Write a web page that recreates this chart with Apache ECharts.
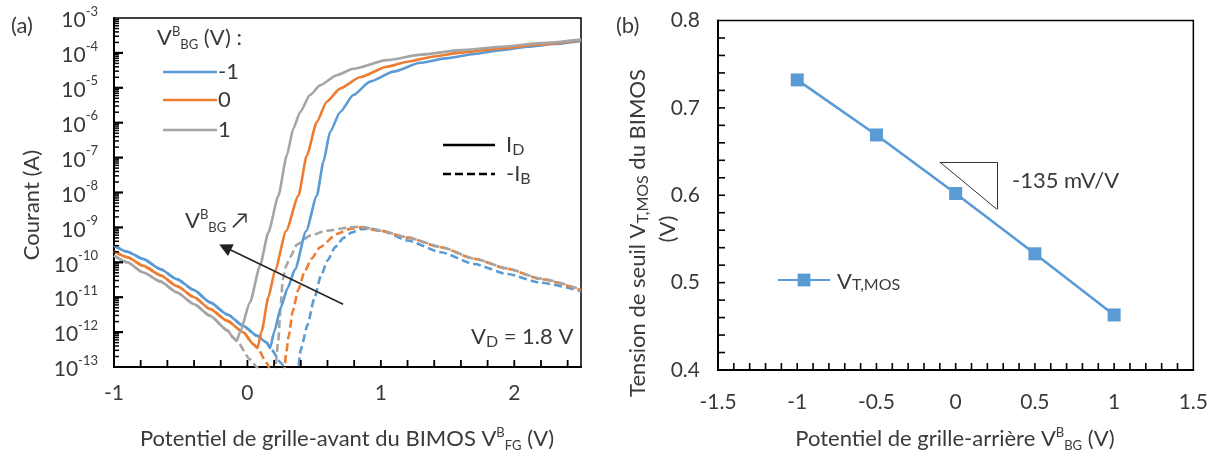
<!DOCTYPE html>
<html><head><meta charset="utf-8">
<script src="https://cdn.jsdelivr.net/npm/echarts/dist/echarts.min.js"></script>
<style>html,body{margin:0;padding:0;background:#fff}#c{width:1211px;height:450px}</style>
</head><body><div id="c"></div>
<script>
// ---------- Panel (a): [V_FG (V), current (A)] ----------
// V_BG = -1 V (blue)
const leakM1 = [[-1,3.0e-10],[-0.9,2.0e-10],[-0.78,1.23e-10],[-0.65,6.3e-11],[-0.53,3.3e-11],[-0.4,1.6e-11],[-0.28,7.1e-12],[-0.15,3.2e-12],[-0.03,1.5e-12],[0.07,7.9e-13],[0.145,5.0e-13],[0.17,3.5e-13]];
const idOnM1 = [[0.2,1.0e-12],[0.25,5.0e-12],[0.3,1.8e-11],[0.357,6.3e-11],[0.44,7.9e-10],[0.52,8.1e-9],[0.569,7.4e-8],[0.619,5.4e-7],[0.694,2.0e-6],[0.794,6.2e-6],[0.919,1.5e-5],[1.094,2.9e-5],[1.294,5.2e-5],[1.5,7.1e-5],[1.7,9.3e-5],[1.9,1.2e-4],[2.1,1.5e-4],[2.3,1.8e-4],[2.5,2.2e-4]];
const ibOnM1 = [[0.257,1.26e-13],[0.3,4e-14],[0.37,4e-14],[0.40,3.2e-13],[0.45,1.6e-12],[0.5,8.9e-12],[0.55,4.0e-11],[0.6,1.12e-10],[0.66,2.8e-10],[0.72,5.0e-10],[0.78,7.1e-10],[0.85,8.9e-10],[0.92,9.1e-10],[1.0,8.3e-10],[1.2,4.2e-10],[1.45,1.95e-10],[1.7,8.9e-11],[1.95,4.6e-11],[2.2,2.6e-11],[2.5,1.5e-11]];
// V_BG = 0 V (orange)
const leak0 = [[-1,2.1e-10],[-0.9,1.4e-10],[-0.78,7.9e-11],[-0.65,4.2e-11],[-0.53,2.1e-11],[-0.4,1.0e-11],[-0.28,4.6e-12],[-0.15,2.1e-12],[-0.03,9.8e-13],[0.044,4.5e-13],[0.075,3.5e-13]];
const idOn0 = [[0.107,1.07e-12],[0.157,1.0e-11],[0.207,5.8e-11],[0.29,7.9e-10],[0.382,8.1e-9],[0.445,1.15e-7],[0.52,1.05e-6],[0.594,4.0e-6],[0.694,9.5e-6],[0.844,2.0e-5],[1.044,4.0e-5],[1.2,5.6e-5],[1.4,7.9e-5],[1.6,1.02e-4],[1.9,1.35e-4],[2.2,1.74e-4],[2.5,2.3e-4]];
const ibOn0 = [[0.145,1.3e-13],[0.2,4e-14],[0.27,4e-14],[0.29,2.5e-13],[0.31,7.9e-13],[0.34,4.0e-12],[0.38,1.6e-11],[0.43,5.6e-11],[0.48,1.26e-10],[0.544,2.7e-10],[0.669,6.5e-10],[0.77,9.1e-10],[0.85,1.0e-9],[1.0,7.9e-10],[1.2,5.1e-10],[1.45,2.7e-10],[1.7,1.26e-10],[1.95,6.5e-11],[2.2,3.3e-11],[2.5,1.6e-11]];
// V_BG = +1 V (grey)
const leakP1 = [[-1,1.55e-10],[-0.9,1.0e-10],[-0.78,5.1e-11],[-0.65,2.8e-11],[-0.53,1.38e-11],[-0.4,6.3e-12],[-0.28,2.95e-12],[-0.15,1.12e-12],[-0.106,6.9e-13],[-0.08,5.6e-13]];
const idOnP1 = [[-0.056,9.8e-13],[0.019,7.1e-12],[0.094,7.9e-11],[0.157,7.2e-10],[0.232,8.1e-9],[0.295,1.15e-7],[0.344,6.8e-7],[0.394,2.0e-6],[0.469,6.2e-6],[0.544,1.17e-5],[0.669,2.3e-5],[0.794,3.5e-5],[1.044,6.2e-5],[1.3,8.9e-5],[1.6,1.2e-4],[1.9,1.5e-4],[2.2,1.9e-4],[2.5,2.4e-4]];
const ibOnP1 = [[0.019,1.66e-13],[0.07,1.0e-13],[0.12,4e-14],[0.2,4e-14],[0.23,5.0e-13],[0.25,6.3e-12],[0.265,3.2e-11],[0.29,7.9e-11],[0.32,1.4e-10],[0.37,3.2e-10],[0.47,5.8e-10],[0.594,8.1e-10],[0.77,1.0e-9],[0.85,1.05e-9],[1.0,8.0e-10],[1.2,5.2e-10],[1.45,2.75e-10],[1.7,1.28e-10],[1.95,6.6e-11],[2.2,3.4e-11],[2.5,1.65e-11]];
const vbgLabels = ['-1', '0', '1'];
// annotation arrow in (a): [V_FG, current]
const arrowTail = [0.717, 6.3e-12];
const arrowTip = [-0.168, 2.7e-10];
// tick positions of panel (a)
const xTicksA = [-0.8,-0.6,-0.4,-0.2,0,0.2,0.4,0.6,0.8,1,1.2,1.4,1.6,1.8,2,2.2,2.4];
const yDecadesA = [1e-13,1e-12,1e-11,1e-10,1e-9,1e-8,1e-7,1e-6,1e-5,1e-4,1e-3];
const yMinorMantissa = [2,3,4,5,6,7,8,9];

// ---------- Panel (b) ----------
const vbg = [-1, -0.5, 0, 0.5, 1];
const vtMos = [0.732, 0.669, 0.602, 0.533, 0.463];
const slopeTri = [[-0.1, 0.638], [0.26, 0.638], [0.26, 0.584]];
// tick positions of panel (b)
const xTicksB = [-1.4,-1.3,-1.2,-1.1,-1,-0.9,-0.8,-0.7,-0.6,-0.5,-0.4,-0.3,-0.2,-0.1,0,0.1,0.2,0.3,0.4,0.5,0.6,0.7,0.8,0.9,1,1.1,1.2,1.3,1.4];
const yTicksB = [0.42,0.44,0.46,0.48,0.5,0.52,0.54,0.56,0.58,0.6,0.62,0.64,0.66,0.68,0.7,0.72,0.74,0.76,0.78];

// ---------- styles ----------
const FONT = 'Lato, "DejaVu Sans", sans-serif';
const TXT = '#3a3a3a';
const C = ['#5B9BD5', '#ED7D31', '#A5A5A5'];
const FS = 22;   // titles / legends
const FT = 21;   // tick labels
const RICH = {
  n:   {fontSize: FS, fontFamily: FONT, color: TXT, fill: TXT, lineHeight: 26},
  sup: {fontSize: 13, fontFamily: FONT, color: TXT, fill: TXT, lineHeight: 14, verticalAlign: 'top'},
  sub: {fontSize: 13, fontFamily: FONT, color: TXT, fill: TXT, lineHeight: 13, verticalAlign: 'bottom'},
  sc:  {fontSize: 16, fontFamily: FONT, color: TXT, fill: TXT, lineHeight: 21, verticalAlign: 'bottom'}
};

function curve(name, data, color, dashed) {
  return {
    type: 'line', name, data, xAxisIndex: 0, yAxisIndex: 0,
    symbol: 'none', clip: true, silent: true, z: dashed ? 2 : 3,
    smooth: 0.2, smoothMonotone: 'x',
    lineStyle: {color, width: 2.6, type: dashed ? [8, 4] : 'solid'},
    itemStyle: {color}
  };
}

const leaks = [leakM1, leak0, leakP1];
const idOn = [idOnM1, idOn0, idOnP1];
const ibOn = [ibOnM1, ibOn0, ibOnP1];
const series = [];
for (let k = 0; k < 3; k++) series.push(curve('-IB ' + vbgLabels[k], leaks[k].concat(ibOn[k]), C[k], true));
for (let k = 0; k < 3; k++) series.push(curve(vbgLabels[k], leaks[k].concat(idOn[k]), C[k], false));
series[3].markLine = {
  silent: true, symbol: ['none', 'triangle'], symbolSize: 13, label: {show: false},
  lineStyle: {color: '#222', width: 1.5, type: 'solid'},
  data: [[{coord: arrowTail}, {coord: arrowTip}]]
};
series.push({
  type: 'line', name: 'VT,MOS', xAxisIndex: 1, yAxisIndex: 1,
  data: vbg.map((v, i) => [v, vtMos[i]]),
  symbol: 'rect', symbolSize: 13, silent: true,
  lineStyle: {color: C[0], width: 2.6}, itemStyle: {color: C[0]},
  markLine: {
    silent: true, symbol: ['none', 'none'], label: {show: false},
    lineStyle: {color: '#333', width: 1, type: 'solid'},
    data: [[{coord: slopeTri[0]}, {coord: slopeTri[1]}],
           [{coord: slopeTri[1]}, {coord: slopeTri[2]}],
           [{coord: slopeTri[0]}, {coord: slopeTri[2]}]]
  }
});

// inside axis ticks: item = [x, y, length, dir(0 = x-axis tick, 1 = y-axis tick), width]
const ticksA = [];
xTicksA.forEach(v => ticksA.push([v, yDecadesA[0], 7, 0, 1.8]));
yDecadesA.forEach((d, i) => {
  if (i > 0 && i < yDecadesA.length - 1) ticksA.push([-1, d, 9, 1, 2.2]);
  if (i < yDecadesA.length - 1) yMinorMantissa.forEach(m => ticksA.push([-1, m * d, 5, 1, 1.5]));
});
const ticksB = [];
xTicksB.forEach(v => ticksB.push([v, 0.4, 7, 0, 1.6]));
yTicksB.forEach(v => ticksB.push([-1.5, v, 7, 1, 1.6]));

function txt(x, y, text, extra) {
  return Object.assign({type: 'text', x, y, silent: true,
    style: Object.assign({text, rich: RICH, fontSize: FS, fontFamily: FONT, fill: TXT,
      align: 'left', verticalAlign: 'middle', textAlign: 'left', textVerticalAlign: 'middle'}, extra && extra.style || {})},
    extra && extra.el || {});
}
function hline(x1, x2, y, color, dash) {
  return {type: 'line', silent: true, shape: {x1, y1: y, x2, y2: y},
    style: {stroke: color, lineWidth: 2.6, lineDash: dash || null}};
}
const centered = {style: {align: 'center', textAlign: 'center'}};
const rotated = {el: {rotation: Math.PI / 2}, style: {align: 'center', textAlign: 'center'}};

const graphic = [
  txt(11, 26, '(a)'),
  txt(616, 26, '(b)'),
  // legend (a)
  txt(157, 38, '{n|V}{sup|B}{sub|BG}{n| (V) :}'),
  hline(163, 217, 72, C[0]), txt(218, 72, '-1'),
  hline(163, 217, 100, C[1]), txt(218, 100, '0'),
  hline(163, 217, 130, C[2]), txt(218, 130, '1'),
  // I_D / -I_B legend
  hline(443, 495, 145, '#000'), txt(506, 145, '{n|I}{sc|D}'),
  hline(443, 495, 174, '#000', [8, 4]), txt(506, 174, '{n|-I}{sc|B}'),
  // annotations (a)
  txt(471, 337, '{n|V}{sc|D}{n| = 1.8 V}'),
  txt(185, 221, '{n|V}{sup|B}{sub|BG}{n| ↗}'),
  // axis titles (a)
  txt(32, 205, 'Courant (A)', rotated),
  txt(347, 439, '{n|Potentiel de grille-avant du BIMOS V}{sup|B}{sub|FG}{n| (V)}', centered),
  // annotations (b)
  txt(1012, 181, '-135 mV/V'),
  // axis titles (b)
  txt(955, 439, '{n|Potentiel de grille-arrière V}{sup|B}{sub|BG}{n| (V)}', centered),
  txt(638, 233, '{n|Tension de seuil V}{sc|T,MOS}{n| du BIMOS}', rotated),
  txt(668, 229, '(V)', rotated)
];

const axisLbl = {color: TXT, fontFamily: FONT, fontSize: FT};
const noTick = {show: false};
const option = {
  animation: false,
  backgroundColor: '#fff',
  textStyle: {fontFamily: FONT},
  grid: [
    {left: 114, top: 18, width: 467, height: 349, show: true, borderColor: '#000', borderWidth: 1.5},
    {left: 718, top: 20.5, width: 477, height: 349.5, show: true, borderColor: '#000', borderWidth: 1.5}
  ],
  xAxis: [
    {type: 'value', gridIndex: 0, min: -1, max: 2.5, interval: 0.2,
     axisLine: {show: true, onZero: false, lineStyle: {color: '#000', width: 2}},
     axisTick: noTick, splitLine: {show: false},
     axisLabel: Object.assign({margin: 16, formatter: v => Math.abs(v - Math.round(v)) < 1e-6 ? String(Math.round(v)) : ''}, axisLbl)},
    {type: 'value', gridIndex: 1, min: -1.5, max: 1.5, interval: 0.5,
     axisLine: {show: true, onZero: false, lineStyle: {color: '#000', width: 2}},
     axisTick: noTick, splitLine: {show: false},
     axisLabel: Object.assign({margin: 22, formatter: v => String(Math.round(v * 10) / 10)}, axisLbl)}
  ],
  yAxis: [
    {type: 'log', gridIndex: 0, logBase: 10, min: 1e-13, max: 1e-3, interval: 1,
     axisLine: {show: true, onZero: false, lineStyle: {color: '#000', width: 2}},
     axisTick: noTick, splitLine: {show: false},
     axisLabel: {margin: 16, color: TXT, fontFamily: FONT,
       formatter: v => '{b|10}{s|' + Math.round(Math.log10(v)) + '}',
       rich: {b: {fontSize: FT, fontFamily: FONT, color: TXT, lineHeight: 26, verticalAlign: 'bottom'},
              s: {fontSize: 13, fontFamily: FONT, color: TXT, lineHeight: 14, verticalAlign: 'top'}}}},
    {type: 'value', gridIndex: 1, min: 0.4, max: 0.8, interval: 0.1,
     axisLine: {show: true, onZero: false, lineStyle: {color: '#000', width: 2}},
     axisTick: noTick, splitLine: {show: false},
     axisLabel: Object.assign({margin: 18, formatter: v => v.toFixed(1)}, axisLbl)}
  ],
  legend: [{
    data: ['VT,MOS'], left: 772, top: 266, itemWidth: 52, itemHeight: 16, orient: 'vertical',
    selectedMode: false,
    formatter: () => '{b|V}{s|T,MOS}',
    textStyle: {color: TXT, fontFamily: FONT, padding: [0, 0, 0, 2],
      rich: {b: {fontSize: FS, fontFamily: FONT, color: TXT, lineHeight: 26, verticalAlign: 'bottom'},
             s: {fontSize: 16, fontFamily: FONT, color: TXT, lineHeight: 21, verticalAlign: 'bottom'}}}
  }],
  graphic,
  series
};
const chart = echarts.init(document.getElementById('c'), null, {renderer: 'canvas'});
chart.setOption(option);

// ticks placed through the axes' own scales (convertToPixel), drawn as graphic lines
try {
  const tickEls = [];
  const addTicks = (gridIndex, list) => list.forEach(t => {
    const p = chart.convertToPixel({gridIndex}, [t[0], t[1]]);
    if (!p || !isFinite(p[0]) || !isFinite(p[1])) return;
    const len = t[2];
    tickEls.push({type: 'line', silent: true, z: 50,
      shape: t[3] === 0 ? {x1: p[0], y1: p[1], x2: p[0], y2: p[1] - len} : {x1: p[0], y1: p[1], x2: p[0] + len, y2: p[1]},
      style: {stroke: '#000', lineWidth: t[4]}});
  });
  addTicks(0, ticksA);
  addTicks(1, ticksB);
  chart.setOption({graphic: graphic.concat(tickEls)});
} catch (e) { /* keep the chart as drawn */ }
</script></body></html>
